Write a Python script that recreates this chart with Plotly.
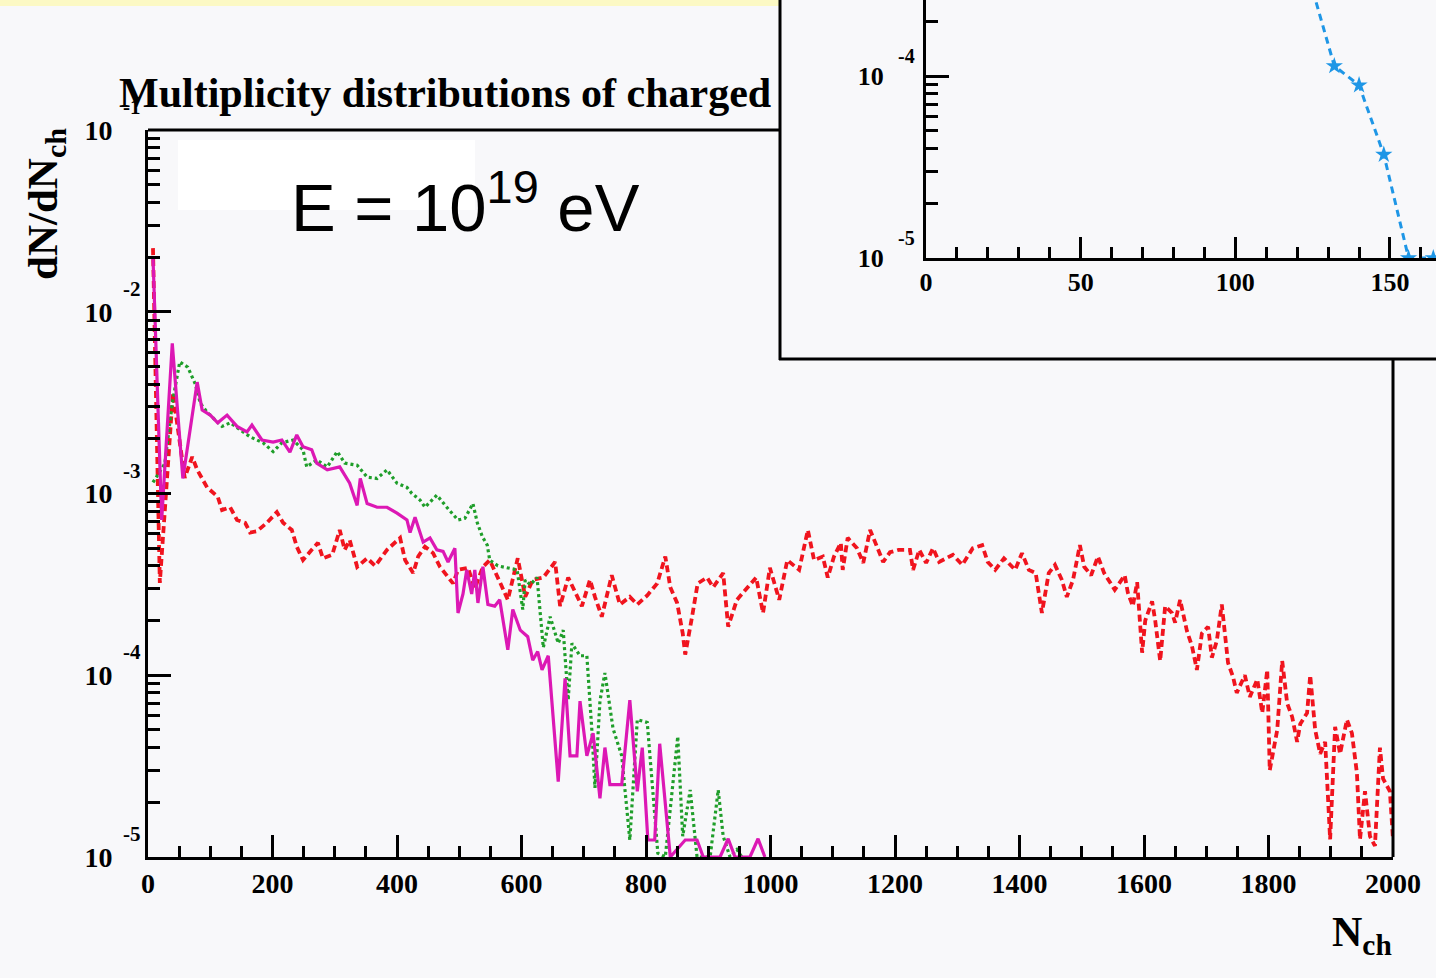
import plotly.graph_objects as go

# page size; the figure fills the whole window
W, H = 1436, 978
OX, OY = 0, 0

# Charged-particle multiplicity N_ch and dN/dN_ch (values in units of 1e-4)
red_n = [8, 19, 40, 59, 71, 79, 95, 112, 119, 132,
         143, 156, 164, 175, 191, 207, 217, 231, 239, 249,
         263, 273, 281, 296, 308, 316, 324, 336, 352, 365,
         384, 405, 413, 426, 434, 445, 458, 469, 490, 498,
         514, 525, 538, 549, 569, 578, 594, 606, 618, 635,
         654, 662, 675, 689, 697, 710, 718, 729, 745, 758,
         774, 786, 802, 818, 831, 839, 850, 859, 863, 874,
         883, 898, 908, 924, 932, 946, 962, 977, 988, 999,
         1014, 1027, 1046, 1060, 1070, 1084, 1092, 1102, 1113, 1116,
         1124, 1139, 1149, 1160, 1171, 1181, 1192, 1206, 1224, 1229,
         1239, 1250, 1261, 1271, 1293, 1308, 1325, 1340, 1349, 1361,
         1375, 1393, 1404, 1415, 1426, 1436, 1447, 1457, 1468, 1476,
         1486, 1497, 1504, 1515, 1526, 1536, 1553, 1569, 1574, 1582,
         1589, 1597, 1602, 1613, 1618, 1626, 1634, 1645, 1650, 1658,
         1669, 1677, 1685, 1693, 1703, 1709, 1717, 1725, 1735, 1743,
         1749, 1762, 1770, 1782, 1790, 1798, 1802, 1814, 1822, 1830,
         1838, 1846, 1851, 1862, 1867, 1875, 1883, 1891, 1899, 1907,
         1915, 1926, 1934, 1942, 1947, 1955, 1963, 1971, 1979, 1984,
         1995, 2000]
red_v = [224, 3.22, 35.7, 12.2, 15.9, 13.5, 10.8, 9.6, 8.1, 8.4,
         7.15, 6.9, 6.1, 6.2, 6.9, 7.9, 6.9, 6.3, 5.1, 4.3,
         4.9, 5.35, 4.4, 4.6, 6.3, 4.9, 5.55, 3.95, 4.4, 4.0,
         4.9, 5.7, 4.3, 3.65, 4.5, 5.1, 4.7, 3.95, 3.2, 3.8,
         3.9, 3.0, 3.95, 4.3, 3.05, 2.6, 4.4, 2.7, 3.35, 3.45,
         4.2, 2.4, 3.45, 2.7, 2.4, 3.35, 2.7, 2.1, 3.55, 2.45,
         2.7, 2.45, 2.75, 3.2, 4.5, 3.05, 2.5, 1.7, 1.3, 2.1,
         3.2, 3.45, 3.05, 3.65, 1.85, 2.6, 3.0, 3.45, 2.2, 3.9,
         2.6, 4.3, 3.8, 6.3, 4.3, 4.5, 3.45, 4.5, 5.35, 3.8,
         5.7, 5.0, 4.15, 6.3, 5.1, 4.2, 4.75, 4.9, 4.9, 3.8,
         4.9, 4.15, 5.0, 4.2, 4.6, 4.05, 5.0, 5.2, 4.2, 3.8,
         4.4, 3.8, 4.7, 3.8, 3.65, 2.2, 3.65, 4.05, 3.35, 2.7,
         3.35, 5.2, 3.95, 3.55, 4.5, 3.65, 2.95, 3.55, 2.85, 2.4,
         3.25, 1.33, 2.0, 2.55, 2.0, 1.2, 2.4, 2.2, 1.95, 2.6,
         1.75, 1.45, 1.07, 1.7, 1.85, 1.25, 1.55, 2.45, 1.17, 0.98,
         0.8, 1.0, 0.76, 0.95, 0.62, 1.07, 0.30, 0.50, 1.2, 0.7,
         0.59, 0.43, 0.54, 0.62, 1.0, 0.50, 0.37, 0.43, 0.125, 0.52,
         0.37, 0.57, 0.48, 0.29, 0.125, 0.23, 0.13, 0.115, 0.40, 0.27,
         0.23, 0.125]

mag_n = [8, 22, 39, 56, 79, 87, 100, 112, 127, 143,
         159, 167, 183, 201, 215, 228, 239, 249, 263, 271,
         288, 308, 324, 336, 341, 352, 368, 384, 400, 416,
         421, 429, 442, 453, 464, 474, 482, 493, 498, 506,
         512, 520, 525, 530, 538, 546, 557, 565, 578, 586,
         598, 610, 618, 626, 633, 643, 659, 670, 678, 689,
         694, 705, 715, 726, 734, 742, 761, 774, 786, 794,
         803, 814, 822, 839, 863, 882, 892, 919, 932, 943,
         967, 980, 991]
mag_v = [200, 7.15, 67, 12.1, 41, 28.8, 27, 24.5, 27, 23.4,
         21.8, 23.8, 19.7, 19.2, 19.7, 16.9, 21.0, 18.1, 17.4, 14.7,
         13.5, 14.0, 11.4, 8.6, 12.1, 8.8, 8.4, 8.4, 7.8, 7.15,
         6.1, 7.4, 5.4, 5.7, 4.9, 4.8, 4.2, 5.0, 2.2, 2.8,
         3.8, 2.8, 3.8, 2.5, 3.95, 2.45, 2.4, 2.6, 1.38, 2.3,
         1.77, 1.63, 1.21, 1.35, 1.07, 1.28, 0.26, 0.96, 0.36, 0.36,
         0.72, 0.36, 0.48, 0.21, 0.4, 0.25, 0.25, 0.73, 0.23, 0.4,
         0.124, 0.124, 0.42, 0.1, 0.124, 0.124, 0.1, 0.1, 0.126, 0.1,
         0.1, 0.126, 0.1]

grn_n = [8, 27, 39, 51, 64, 76, 84, 95, 119, 132,
         148, 164, 185, 201, 215, 233, 249, 255, 271, 288,
         304, 316, 336, 352, 368, 384, 400, 416, 424, 437,
         445, 464, 480, 498, 509, 522, 529, 537, 545, 549,
         562, 577, 593, 602, 606, 614, 625, 635, 646, 659,
         667, 675, 681, 694, 705, 713, 718, 726, 734, 747,
         761, 774, 786, 802, 819, 831, 851, 859, 871, 882,
         903, 916, 924, 935, 946, 954]
grn_v = [11.5, 14.6, 31.4, 53, 49.5, 40, 31.4, 28, 23.4, 24.5,
         22.4, 20.5, 19, 17, 19, 19.7, 17.4, 14, 15.3, 14,
         17, 14.7, 14.3, 12.3, 12.1, 13.5, 11.4, 10.8, 10.0, 9.2,
         8.4, 9.8, 8.4, 7.15, 7.3, 8.8, 6.9, 5.8, 5.2, 4.3,
         4.0, 3.9, 3.8, 2.3, 3.35, 3.15, 3.45, 1.42, 2.1, 1.5,
         1.77, 0.73, 1.5, 1.28, 1.28, 0.5, 0.24, 0.72, 1.03, 0.51,
         0.36, 0.124, 0.57, 0.55, 0.105, 0.1, 0.46, 0.13, 0.234, 0.1,
         0.1, 0.234, 0.13, 0.1, 0.11, 0.1]

# Inset: tail of the low-multiplicity distribution (values in units of 1e-4)
ins_n = [124, 132, 140, 148, 156, 164]
ins_v = [3.4, 1.135, 0.89, 0.37, 0.1, 0.1]

UNIT = 1e-4
main_xticks = list(range(0, 2001, 200))
main_decades = [-5, -4, -3, -2, -1]
inset_xticks = [0, 50, 100, 150]
inset_decades = [-5, -4]

SERIF = "Liberation Serif"
BG = "#f8f8fa"

# inset scales: 3.093 px per unit in x, 182 px per decade in y
INSET_X0, INSET_PX_PER_UNIT = 926, 3.0933
INSET_Y_1EM4, INSET_PX_PER_DEC = 76, 182.0


def fx(px):
    """window column (px) -> paper fraction"""
    return (px - OX) / W


def fy(py):
    """window row (px) -> paper fraction"""
    return 1 - (py - OY) / H


def bold(size):
    return dict(family=SERIF, size=size, color="black", weight="bold")


def minor_log(decades):
    vals = []
    for d in decades:
        for k in range(2, 10):
            vals.append(k * 10.0 ** d)
    return vals


inset_xmax = (OX + W - INSET_X0) / INSET_PX_PER_UNIT
inset_ytop = -4 + (INSET_Y_1EM4 - OY) / INSET_PX_PER_DEC

fig = go.Figure()

fig.add_trace(go.Scatter(
    x=red_n, y=[v * UNIT for v in red_v], mode="lines",
    line=dict(color="#f0141e", width=3.8, dash="7px,4px"),
    xaxis="x", yaxis="y", showlegend=False))
fig.add_trace(go.Scatter(
    x=grn_n, y=[v * UNIT for v in grn_v], mode="lines",
    line=dict(color="#1f9e2a", width=3.2, dash="3px,3px"),
    xaxis="x", yaxis="y", showlegend=False))
fig.add_trace(go.Scatter(
    x=mag_n, y=[v * UNIT for v in mag_v], mode="lines",
    line=dict(color="#dc18b4", width=3.2),
    xaxis="x", yaxis="y", showlegend=False))

fig.add_trace(go.Scatter(
    x=ins_n, y=[v * UNIT for v in ins_v], mode="lines+markers",
    line=dict(color="#1e96e6", width=3, dash="7px,5px"),
    marker=dict(symbol="star", size=13, color="#1e96e6", line=dict(width=0)),
    xaxis="x2", yaxis="y2", showlegend=False))

axis_common = dict(showline=True, linecolor="black", linewidth=3,
                   ticks="inside", tickcolor="black", tickwidth=3,
                   showgrid=False, zeroline=False, mirror=False,
                   automargin=False)

fig.update_layout(
    width=W, height=H, autosize=False,
    margin=dict(l=0, r=0, t=0, b=0, pad=0),
    paper_bgcolor=BG, plot_bgcolor=BG,
    xaxis=dict(
        domain=[fx(148), fx(1393)], range=[0, 2000], anchor="y",
        tickmode="array", tickvals=main_xticks,
        ticktext=[str(v) for v in main_xticks],
        ticklen=22, tickfont=bold(28), ticklabelstandoff=-1,
        minor=dict(ticks="inside", dtick=50, ticklen=11, tickwidth=2.5,
                   tickcolor="black", showgrid=False),
        **axis_common),
    yaxis=dict(
        type="log", domain=[fy(857), fy(130)], range=[-5, -1], anchor="x",
        tickmode="array", tickvals=[10.0 ** d for d in main_decades],
        ticktext=["10"] * len(main_decades),
        ticklen=23, tickfont=bold(28), ticklabelstandoff=27,
        minor=dict(ticks="inside", tickmode="array",
                   tickvals=minor_log([-5, -4, -3, -2]),
                   ticklen=12, tickwidth=2.5, tickcolor="black", showgrid=False),
        **axis_common),
    xaxis2=dict(
        domain=[fx(INSET_X0), 1.0], range=[0, inset_xmax], anchor="y2",
        tickmode="array", tickvals=inset_xticks,
        ticktext=[str(v) for v in inset_xticks],
        ticklen=21, tickfont=bold(26), ticklabelstandoff=-1,
        minor=dict(ticks="inside", dtick=10, ticklen=11, tickwidth=2.5,
                   tickcolor="black", showgrid=False),
        **axis_common),
    yaxis2=dict(
        type="log", domain=[fy(258), 1.0], range=[-5, inset_ytop], anchor="x2",
        tickmode="array", tickvals=[10.0 ** d for d in inset_decades],
        ticktext=["10"] * len(inset_decades),
        ticklen=23, tickfont=bold(26), ticklabelstandoff=34,
        minor=dict(ticks="inside", tickmode="array",
                   tickvals=minor_log([-5]) + [2e-4, 3e-4],
                   ticklen=12, tickwidth=2.5, tickcolor="black", showgrid=False),
        **axis_common),
)

shapes = [
    # pale strip along the top edge
    dict(type="rect", xref="paper", yref="paper",
         x0=0, x1=fx(779), y0=fy(6), y1=1.0,
         fillcolor="#fcf9c4", line=dict(width=0), layer="below"),
    # white label panel
    dict(type="rect", xref="paper", yref="paper",
         x0=fx(178), x1=fx(475), y0=fy(210), y1=fy(140),
         fillcolor="white", line=dict(width=0), layer="below"),
    # remaining frame of the main panel (top and right edges)
    dict(type="line", xref="paper", yref="paper",
         x0=fx(148), x1=fx(780), y0=fy(130), y1=fy(130),
         line=dict(color="black", width=3)),
    dict(type="line", xref="paper", yref="paper",
         x0=fx(1393), x1=fx(1393), y0=fy(359), y1=fy(857),
         line=dict(color="black", width=3)),
    # inset frame
    dict(type="line", xref="paper", yref="paper",
         x0=fx(780), x1=fx(780), y0=fy(360), y1=1.0,
         line=dict(color="black", width=3)),
    dict(type="line", xref="paper", yref="paper",
         x0=fx(779), x1=1.0, y0=fy(359), y1=fy(359),
         line=dict(color="black", width=3)),
]
fig.update_layout(shapes=shapes)

annotations = [
    dict(text="Multiplicity distributions of charged", xref="paper", yref="paper",
         x=fx(117), y=fy(93), xanchor="left", yanchor="middle",
         showarrow=False, font=bold(42)),
    dict(text="E = 10<sup>19</sup> eV", xref="paper", yref="paper",
         x=fx(289), y=fy(203), xanchor="left", yanchor="middle",
         showarrow=False,
         font=dict(family="Liberation Sans", size=67, color="black")),
    dict(text="dN/dN<sub>ch</sub>", xref="paper", yref="paper",
         x=fx(46), y=fy(204), xanchor="center", yanchor="middle",
         textangle=-90, showarrow=False, font=bold(43)),
    dict(text="N<sub>ch</sub>", xref="paper", yref="paper",
         x=fx(1362), y=fy(935), xanchor="center", yanchor="middle",
         showarrow=False, font=bold(42)),
]
for d in main_decades:
    annotations.append(dict(
        text=str(d), xref="paper", yref="y", x=fx(132), y=d, yshift=23,
        xanchor="center", yanchor="middle", showarrow=False, font=bold(21)))
for d in inset_decades:
    annotations.append(dict(
        text=str(d), xref="paper", yref="y2", x=fx(906), y=d, yshift=20,
        xanchor="center", yanchor="middle", showarrow=False, font=bold(20)))
fig.update_layout(annotations=annotations)

fig.write_html("out.html")
